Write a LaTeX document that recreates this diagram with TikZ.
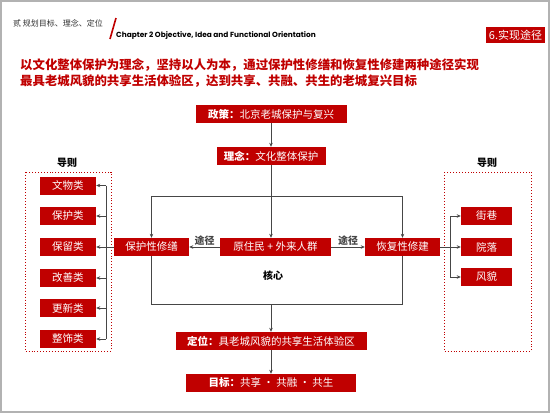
\documentclass[tikz,border=0pt]{standalone}
\usepackage{fontspec}
\setmainfont{Liberation Sans}
\newfontfamily\cjk{Noto Sans CJK SC}
\newfontfamily\chapfont{Poppins}
\usetikzlibrary{arrows.meta,positioning}
\definecolor{slidered}{RGB}{192,0,0}
\definecolor{linegray}{RGB}{70,70,70}

\begin{document}
\begin{tikzpicture}[x=1pt,y=-1pt,
  redbox/.style={fill=slidered,text=white,inner sep=0pt,minimum height=18pt,
    font=\cjk\fontsize{10.5}{12}\selectfont},
  guidebox/.style={redbox,minimum width=56pt},
  link/.style={linegray,line width=0.6pt},
  arr/.style={link,-{Stealth[length=4pt,width=3.5pt]}},
  guideframe/.style={slidered,dotted,line width=0.9pt},
  caption/.style={font=\cjk\bfseries\fontsize{10}{12}\selectfont}]
\useasboundingbox (0,0) rectangle (550,413);
% slide frame
\draw[gray!60,line width=2pt] (1,1) rectangle (549,412);
% header
\node[anchor=west,inner sep=0,text=black!80,font=\cjk\fontsize{8}{9}\selectfont] (part) at (13,23) {贰\ 规划目标、理念、定位};
\draw[slidered,line width=1.6pt] (116,18) -- (110,39);
\node[anchor=west,inner sep=0,font=\chapfont\bfseries\fontsize{7.4}{8}\selectfont] (chapter) at (116,36) {Chapter 2 Objective, Idea and Functional Orientation};
\node[fill=slidered,text=white,minimum width=59pt,minimum height=16pt,inner sep=0,
  font=\cjk\fontsize{11}{12}\selectfont] (section) at (515.5,35) {6.实现途径};
% headline
\node[anchor=north west,align=left,inner sep=0,text=slidered,
  font=\cjk\bfseries\fontsize{12.4}{16}\selectfont] (motto) at (20,58)
  {以文化整体保护为理念，坚持以人为本，通过保护性修缮和恢复性修建两种途径实现\\
   最具老城风貌的共享生活体验区，达到共享、共融、共生的老城复兴目标};
% main column
\node[redbox,minimum width=151pt] (policy) at (271,114) {\textbf{政策：}北京老城保护与复兴};
\node[redbox,minimum width=109pt] (idea) at (271,156) {\textbf{理念：}文化整体保护};
\node[redbox,minimum width=111pt] (people) at (275.5,247) {原住民 + 外来人群};
\node[redbox,minimum width=75pt] (repair) at (151.5,247) {保护性修缮};
\node[redbox,minimum width=75pt] (rebuild) at (402.5,247) {恢复性修建};
\node[caption] (core) at (273,276) {核心};
\node[redbox,minimum width=191pt] (position) at (271,341) {\textbf{定位：}具老城风貌的共享生活体验区};
\node[redbox,minimum width=170pt] (goal) at (271,383) {\textbf{目标：}共享 · 共融 · 共生};
\coordinate (split) at (271,196);
\coordinate (merge) at (271,304);
\draw[arr] (policy) -- (idea);
\draw[arr] (idea.south) -- (idea.south |- people.north);
\draw[arr] (split) -| (repair.north);
\draw[arr] (split) -| (rebuild.north);
\draw[arr] (people.west) -- node[above,inner sep=1pt,caption]{途径} (repair.east);
\draw[arr] (people.east) -- node[above,inner sep=1pt,caption]{途径} (rebuild.west);
\draw[link] (repair.south) |- (merge);
\draw[link] (rebuild.south) |- (merge);
\draw[arr] (merge) -- (position.north);
\draw[arr] (position) -- (goal);
% guides, left
\node[caption] (lguide) at (67,163) {导则};
\draw[guideframe] (25,172) rectangle (111,351);
\foreach \name/\txt/\y in {lg1/文物类/185.5,lg2/保护类/216,lg3/保留类/247,lg4/改善类/278,lg5/更新类/308,lg6/整饰类/339}
  \node[guidebox] (\name) at (68,\y) {\txt};
\coordinate (lbus) at (106,247);
\draw[link] (repair.west) -- (lbus);
\draw[link] (lbus |- lg1) -- (lbus |- lg6);
\foreach \n in {lg1,lg2,lg3,lg4,lg5,lg6}
  \draw[arr] (lbus |- \n) -- (\n.east);
% guides, right
\node[caption] (rguide) at (487,163) {导则};
\draw[guideframe] (444,172) rectangle (531,351);
\foreach \name/\txt/\y in {rg1/街巷/216,rg2/院落/247,rg3/风貌/277}
  \node[guidebox,minimum width=51pt] (\name) at (486.5,\y) {\txt};
\coordinate (rbus) at (450,247);
\draw[link] (rebuild.east) -- (rbus);
\draw[link] (rbus |- rg1) -- (rbus |- rg3);
\foreach \n in {rg1,rg2,rg3}
  \draw[arr] (rbus |- \n) -- (\n.west);
\end{tikzpicture}
\end{document}
